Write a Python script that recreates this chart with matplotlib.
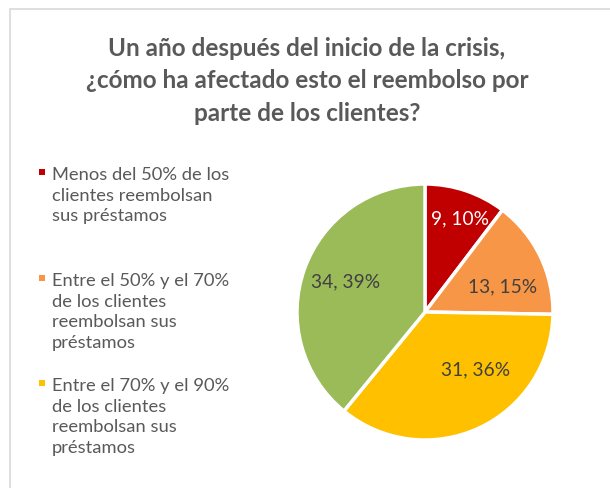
import numpy as np
import matplotlib
matplotlib.use("Agg")
import matplotlib.pyplot as plt
from matplotlib.patches import Rectangle

plt.rcParams['font.family'] = ['Lato', 'DejaVu Sans']

title = "Un año después del inicio de la crisis,\n¿cómo ha afectado esto el reembolso por\nparte de los clientes?"
categories = [
    "Menos del 50% de los\nclientes reembolsan\nsus préstamos",
    "Entre el 50% y el 70%\nde los clientes\nreembolsan sus\npréstamos",
    "Entre el 70% y el 90%\nde los clientes\nreembolsan sus\npréstamos",
    "Más del 90% de los\nclientes reembolsan\nsus préstamos",
]
values = [9, 13, 31, 34]
colors = ["#C00000", "#F79646", "#FFC000", "#9BBB59"]
label_colors = ["#FFFFFF", "#404040", "#404040", "#404040"]

W, H = 610, 488
fig = plt.figure(figsize=(W / 100, H / 100), dpi=100)

# chart border (cropped on right/bottom)
fig.patches.append(Rectangle((10 / W, -0.1), 1.1, 1 - 9 / H + 0.1, transform=fig.transFigure,
                             fill=False, edgecolor="#D9D9D9", linewidth=1.2))

fig.text(307 / W, 1 - 81 / H, title, ha="center", va="center", fontsize=17.5,
         fontweight="bold", color="#595959", linespacing=1.5)

# pie
cx, cy, r = 425, 312, 128
ax = fig.add_axes([(cx - r) / W, 1 - (cy + r) / H, 2 * r / W, 2 * r / H])
wedges, _ = ax.pie(values, colors=colors, startangle=90, counterclock=False,
                   wedgeprops=dict(edgecolor="white", linewidth=2.5))
ax.set_xlim(-1, 1)
ax.set_ylim(-1, 1)
ax.set_aspect("equal")
ax.axis("off")

total = sum(values)
label_r = [0.78, 0.64, 0.6, 0.66]
label_shift = [-2, -8, 16, -1]
for w, v, c, lr, ls in zip(wedges, values, label_colors, label_r, label_shift):
    th = np.deg2rad((w.theta1 + w.theta2) / 2 + ls)
    ax.text(lr * np.cos(th), lr * np.sin(th), f"{v}, {round(100 * v / total)}%",
            ha="center", va="center", fontsize=13.8, color=c)

# legend (first three entries visible)
slot_top = [172, 278, 383]
for lab, col, yt in zip(categories[:3], colors[:3], slot_top):
    fig.text(52 / W, 1 - (yt - 5) / H, lab, ha="left", va="top", fontsize=13.2,
             color="#595959", linespacing=1.36)
    fig.patches.append(Rectangle((39 / W, 1 - (yt + 3) / H), 6 / W, 6 / H,
                                 transform=fig.transFigure, facecolor=col, edgecolor="none"))

fig.savefig("out.png", dpi=100, facecolor="white")
